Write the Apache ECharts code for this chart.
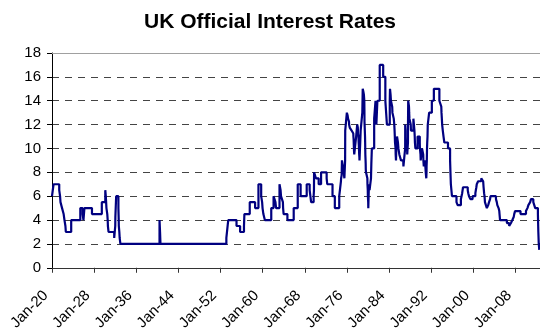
<!DOCTYPE html>
<html>
<head>
<meta charset="utf-8">
<script src="https://cdn.jsdelivr.net/npm/echarts@6/dist/echarts.min.js"></script>
<style>
html,body{margin:0;padding:0;background:#fff;}
#chart{width:540px;height:333px;}
</style>
</head>
<body>
<div id="chart"></div>
<script>
// Rate change dates and the rate (%) from that date
const changeDates = [
"1920-01-01","1920-04-15","1921-04-28","1921-06-23","1921-07-21","1921-11-03","1922-02-16","1922-04-13","1922-06-15","1922-07-13",
"1923-07-05","1925-03-05","1925-08-06","1925-10-01","1925-12-03","1927-04-21","1929-02-07","1929-09-26","1929-10-31","1929-11-21",
"1929-12-12","1930-02-06","1930-03-06","1930-03-20","1930-05-01","1931-05-14","1931-07-23","1931-07-30","1931-09-21","1932-02-18",
"1932-03-10","1932-03-17","1932-04-21","1932-05-12","1932-06-30","1939-08-24","1939-09-28","1939-10-26","1951-11-08","1952-03-12",
"1953-09-17","1954-05-13","1955-01-27","1955-02-24","1956-02-16","1957-02-07","1957-09-19","1958-03-20","1958-05-22","1958-06-19",
"1958-08-14","1958-11-20","1960-01-21","1960-06-23","1960-10-27","1960-12-08","1961-07-25","1961-10-05","1961-11-02","1962-03-08",
"1962-03-22","1962-04-26","1963-01-03","1964-02-27","1964-11-23","1965-06-03","1966-07-14","1967-01-26","1967-03-16","1967-05-04",
"1967-10-19","1967-11-09","1967-11-18","1968-03-21","1968-09-19","1969-02-27","1970-03-05","1970-04-15","1971-04-01","1971-09-02",
"1972-06-22","1972-10-13","1972-10-27","1972-12-01","1972-12-22","1973-01-19","1973-03-01","1973-04-20","1973-06-01","1973-07-20",
"1973-07-27","1973-11-13","1974-01-04","1974-02-01","1974-04-05","1974-04-11","1974-05-24","1974-09-27","1975-01-17","1975-01-24",
"1975-02-07","1975-02-14","1975-02-21","1975-02-28","1975-03-07","1975-03-21","1975-05-02","1975-07-25","1975-10-03","1975-11-14",
"1975-11-21","1975-11-28","1975-12-24","1976-01-02","1976-01-09","1976-01-23","1976-01-30","1976-02-06","1976-02-13","1976-02-27",
"1976-03-05","1976-04-23","1976-05-21","1976-09-10","1976-10-07","1976-11-19","1976-12-24","1977-01-07","1977-01-21","1977-01-28",
"1977-02-03","1977-02-10","1977-03-10","1977-03-18","1977-03-31","1977-04-07","1977-04-15","1977-04-22","1977-04-29","1977-05-13",
"1977-08-12","1977-08-19","1977-09-09","1977-09-16","1977-10-07","1977-10-14","1977-11-25","1978-01-06","1978-04-11","1978-05-05",
"1978-05-12","1978-06-08","1978-11-09","1979-02-08","1979-03-01","1979-04-05","1979-06-12","1979-11-15","1980-07-03","1980-11-24",
"1981-03-10","1981-09-16","1981-10-01","1981-11-09","1981-12-03","1982-02-25","1982-03-12","1982-06-08","1982-07-13","1982-08-02",
"1982-08-18","1982-08-31","1982-10-07","1982-10-14","1982-11-04","1982-11-26","1983-01-12","1983-03-15","1983-04-15","1983-06-15",
"1983-10-04","1984-03-07","1984-03-15","1984-05-10","1984-07-09","1984-07-12","1984-08-09","1984-08-10","1984-08-20","1984-11-07",
"1984-11-20","1984-11-23","1985-01-11","1985-01-14","1985-01-28","1985-03-21","1985-03-29","1985-04-02","1985-04-12","1985-04-19",
"1985-07-15","1985-07-29","1986-01-09","1986-03-19","1986-04-08","1986-04-21","1986-05-23","1986-10-14","1987-03-10","1987-03-19",
"1987-04-28","1987-05-11","1987-08-07","1987-10-26","1987-11-05","1987-12-04","1988-02-02","1988-03-17","1988-04-11","1988-05-18",
"1988-06-02","1988-06-06","1988-06-22","1988-06-29","1988-07-05","1988-07-19","1988-08-08","1988-08-25","1988-11-25","1989-05-24",
"1989-10-05","1990-10-08","1991-02-13","1991-02-27","1991-03-22","1991-04-12","1991-05-24","1991-07-12","1991-09-04","1992-05-05",
"1992-09-22","1992-10-16","1992-11-13","1993-01-26","1993-11-23","1994-02-08","1994-09-12","1994-12-07","1995-02-02","1995-12-13",
"1996-01-18","1996-03-08","1996-06-06","1996-10-30","1997-05-06","1997-06-06","1997-07-10","1997-08-07","1997-11-06","1998-06-04",
"1998-10-08","1998-11-05","1998-12-10","1999-01-07","1999-02-04","1999-04-08","1999-06-10","1999-09-08","1999-11-04","2000-01-13",
"2000-02-10","2001-02-08","2001-04-05","2001-05-10","2001-08-02","2001-09-18","2001-10-04","2001-11-08","2003-02-06","2003-07-10",
"2003-11-06","2004-02-05","2004-05-06","2004-06-10","2004-08-05","2005-08-04","2006-08-03","2006-11-09","2007-01-11","2007-05-10",
"2007-07-05","2007-12-06","2008-02-07","2008-04-10","2008-10-08","2008-11-06","2008-12-04","2009-01-08"
];
const rates = [
6,7,6.5,6,5.5,5,4.5,4,3.5,3,
4,5,4.5,4,5,4.5,5.5,6.5,6,5.5,
5,4.5,4,3.5,3,2.5,3.5,4.25,6,5,
4,3.5,3,2.5,2,4,3,2,2.5,4,
3.5,3,3.5,4.5,5.5,5,7,6,5.5,5,
4.5,4,5,6,5.5,5,7,6.5,6,5.5,
5,4.5,4,5,7,6,7,6.5,6,5.5,
6,6.5,8,7.5,7,8,7.5,7,6,5,
6,7.25,7.5,7.75,9,8.75,8.5,8,7.5,9,
11.5,13,12.75,12.5,12.25,12,11.75,11.5,11.25,11,
10.75,10.5,10.25,10,9.75,9.5,10,11,12,11.75,
11.5,11.25,11,10.75,10.5,10.25,10,9.75,9.5,9.25,
9,10.5,11.5,13,15,14.75,14.5,14.25,14,13.25,
12.25,12,11,10.5,9.5,9.25,9,8.75,8.25,8,
7.5,7,6.5,6,5.5,5,7,6.5,7.5,8.75,
9,10,12.5,14,13,12,14,17,16,14,
12,14,15,14.5,14,13.5,13,12.5,12,11.5,
11,10.5,10,9.5,9,10,11,10.5,10,9.5,
9,8.75,8.5,9.25,10,12,11.5,11,10.5,10,
9.75,9.5,10.5,12,14,13.5,13.25,13,12.75,12.5,
12,11.5,12.5,11.5,11,10.5,10,11,10.5,10,
9.5,9,10,9.5,9,8.5,9,8.5,8,7.5,
8,8.5,9,9.5,10,10.5,11,12,13,14,
15,14,13.5,13,12.5,12,11.5,11,10.5,10,
9,8,7,6,5.5,5.25,5.75,6.25,6.75,6.5,
6.25,6,5.75,6,6.25,6.5,6.75,7,7.25,7.5,
7.25,6.75,6.25,6,5.5,5.25,5,5.25,5.5,5.75,
6,5.75,5.5,5.25,5,4.75,4.5,4,3.75,3.5,
3.75,4,4.25,4.5,4.75,4.5,4.75,5,5.25,5.5,
5.75,5.5,5.25,5,4.5,3,2,1.5
];
const tickLabels = ["Jan-20","Jan-28","Jan-36","Jan-44","Jan-52","Jan-60","Jan-68","Jan-76","Jan-84","Jan-92","Jan-00","Jan-08"];
const yTicks = [0,2,4,6,8,10,12,14,16,18];

const BASE_YEAR = 1920;
const TICK_STEP = 7.7;   // years between labelled ticks on the reference axis
function yearsSince(d) {
  const [y, m, day] = d.split('-').map(Number);
  const start = Date.UTC(y, 0, 1), end = Date.UTC(y + 1, 0, 1);
  return (y - BASE_YEAR) + (Date.UTC(y, m - 1, day) - start) / (end - start);
}
const seriesData = changeDates.map((d, i) => [yearsSince(d), rates[i]]);

const font = 'Arial, "Liberation Sans", sans-serif';
const chart = echarts.init(document.getElementById('chart'), null, {renderer: 'canvas'});
chart.setOption({
  animation: false,
  backgroundColor: '#ffffff',
  title: {
    text: 'UK Official Interest Rates',
    left: 'center',
    top: 7,
    textStyle: {fontFamily: font, fontSize: 21, fontWeight: 'bold', color: '#000'}
  },
  grid: {left: 52, right: 0, top: 53, bottom: 65, containLabel: false},
  xAxis: [{
    type: 'value',
    min: 0,
    max: 89.15,
    interval: TICK_STEP,
    axisLine: {show: true, lineStyle: {color: '#333', width: 1}},
    axisTick: {show: true, inside: false, length: 5, lineStyle: {color: '#333'}},
    splitLine: {show: false},
    axisLabel: {
      rotate: 45,
      margin: 19,
      padding: [0, 9, 0, 0],
      fontFamily: font,
      fontSize: 15,
      color: '#000',
      showMaxLabel: false,
      formatter: function (v) {
        const i = Math.round(v / TICK_STEP);
        if (Math.abs(v - i * TICK_STEP) > 0.01) return '';
        return tickLabels[i] || '';
      }
    }
  }, {
    type: 'value',
    position: 'top',
    min: 0,
    max: 89.15,
    axisLine: {show: true, lineStyle: {color: '#a0a0a0', width: 1}},
    axisTick: {show: false},
    axisLabel: {show: false},
    splitLine: {show: false}
  }],
  yAxis: {
    type: 'value',
    min: yTicks[0],
    max: yTicks[yTicks.length - 1],
    interval: 2,
    axisLine: {show: true, lineStyle: {color: '#000', width: 1}},
    axisTick: {show: true, inside: false, length: 5, lineStyle: {color: '#000'}},
    axisLabel: {margin: 11, fontFamily: font, fontSize: 15, color: '#000'},
    splitLine: {show: true, showMinLine: false, showMaxLine: false, lineStyle: {color: '#444', type: [7, 6], width: 1}}
  },
  series: [{
    type: 'line',
    xAxisIndex: 0,
    data: seriesData,
    step: 'end',
    showSymbol: false,
    lineStyle: {color: '#000080', width: 2.2},
    itemStyle: {color: '#000080'}
  }]
});
</script>
</body>
</html>
